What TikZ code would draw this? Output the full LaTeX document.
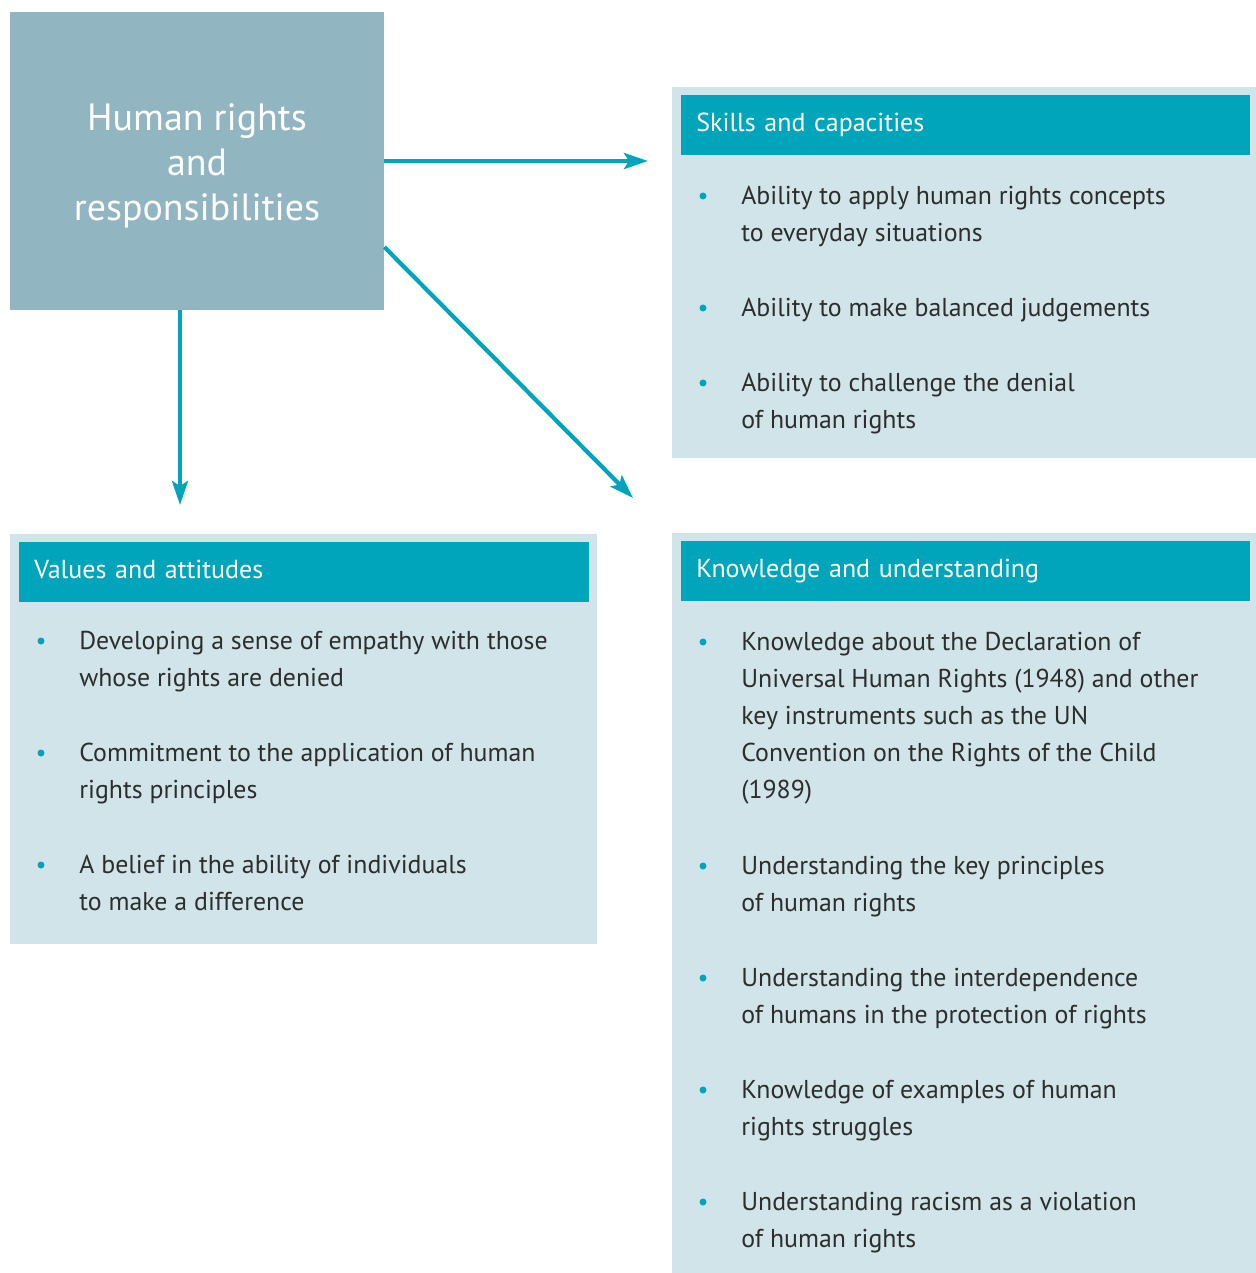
\documentclass[tikz,border=0pt]{standalone}
\usepackage{fontspec}
\setmainfont{PT Sans}
\usetikzlibrary{arrows.meta}
\definecolor{hrteal}{RGB}{0,165,188}
\definecolor{hrpale}{RGB}{208,228,233}
\definecolor{hrgrey}{RGB}{146,182,193}
\definecolor{hrtext}{RGB}{45,45,45}

\begin{document}
\begin{tikzpicture}[x=0.02cm, y=-0.02cm,
    panel/.style={fill=hrpale, inner sep=0pt, anchor=north west},
    header/.style={fill=hrteal, text=white, anchor=north west, inner sep=0pt, minimum height=1.2cm,
      text width=10.78cm, inner xsep=0.3cm, align=left, text height=0.75em, text depth=0.1em,
      font=\fontsize{14.8}{21}\selectfont},
    item/.style={anchor=north west, inner sep=0pt, text=hrtext, align=left, font=\fontsize{14.7}{21}\selectfont},
    dot/.style={circle, fill=hrteal, inner sep=0pt, minimum size=0.14cm},
    link/.style={draw=hrteal, line width=2.4pt, -{Stealth[length=0.48cm, width=0.32cm, inset=0.1cm]}}]
    \useasboundingbox (0,0) rectangle (1256,1273);

    \node[fill=hrgrey, minimum width=7.48cm, minimum height=5.96cm, inner sep=0pt] (hr) at (197,161) {};
    \node[text=white, align=center, font=\fontsize{21.6}{25.6}\selectfont] (hrlabel)
      at ([yshift=-0.1cm]hr.center) {Human rights\\and\\responsibilities};

    \node[panel, minimum width=11.68cm, minimum height=7.42cm] (skillsbg) at (672,87) {};
    \node[panel, minimum width=11.74cm, minimum height=8.2cm] (valuesbg) at (10,534) {};
    \node[panel, minimum width=11.68cm, minimum height=14.8cm] (knowbg) at (672,533) {};

    \node[header] (skills) at (681,95) {Skills and capacities};
    \node[header, text width=10.8cm] (values) at (19,542) {Values and attitudes};
    \node[header] (know) at (681,541) {Knowledge and understanding};

    \node[dot] (sk1d) at (703,196) {};
    \node[item] (sk1) at (741,186) {Ability to apply human rights concepts\\to everyday situations};
    \node[dot] (sk2d) at (703,308) {};
    \node[item] (sk2) at (741,298) {Ability to make balanced judgements};
    \node[dot] (sk3d) at (703,383) {};
    \node[item] (sk3) at (741,373) {Ability to challenge the denial\\of human rights};

    \node[dot] (va1d) at (41,641) {};
    \node[item] (va1) at (79,631) {Developing a sense of empathy with those\\whose rights are denied};
    \node[dot] (va2d) at (41,753) {};
    \node[item] (va2) at (79,743) {Commitment to the application of human\\rights principles};
    \node[dot] (va3d) at (41,865) {};
    \node[item] (va3) at (79,855) {A belief in the ability of individuals\\to make a difference};

    \node[dot] (kn1d) at (703,642) {};
    \node[item] (kn1) at (741,632) {Knowledge about the Declaration of\\Universal Human Rights (1948) and other\\key instruments such as the UN\\Convention on the Rights of the Child\\(1989)};
    \node[dot] (kn2d) at (703,866) {};
    \node[item] (kn2) at (741,856) {Understanding the key principles\\of human rights};
    \node[dot] (kn3d) at (703,978) {};
    \node[item] (kn3) at (741,968) {Understanding the interdependence\\of humans in the protection of rights};
    \node[dot] (kn4d) at (703,1090) {};
    \node[item] (kn4) at (741,1080) {Knowledge of examples of human\\rights struggles};
    \node[dot] (kn5d) at (703,1202) {};
    \node[item] (kn5) at (741,1192) {Understanding racism as a violation\\of human rights};

    \coordinate (skin) at (648,161);
    \coordinate (valin) at (180,505);
    \coordinate (knin) at (633,498);
    \draw[link] (hr.east) -- (skin);
    \draw[link] (hr.south -| valin) -- (valin);
    \draw[link] ([yshift=-1.72cm]hr.east) -- (knin);
\end{tikzpicture}
\end{document}
